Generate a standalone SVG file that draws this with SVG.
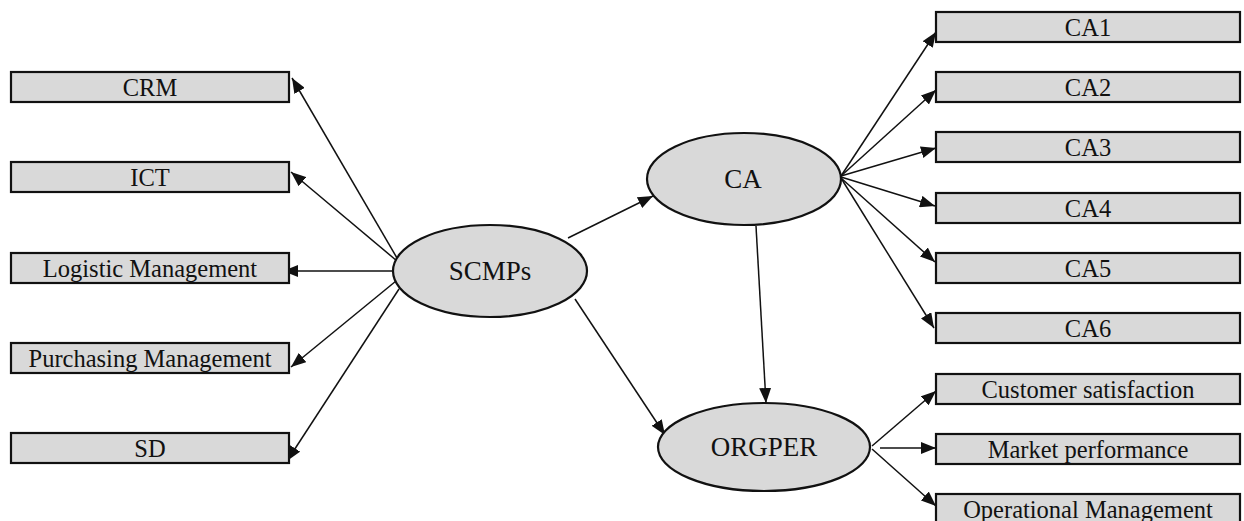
<svg xmlns="http://www.w3.org/2000/svg" width="1244" height="521" viewBox="0 0 1244 521">
<defs>
<marker id="ah" markerWidth="16" markerHeight="12" refX="15" refY="6" orient="auto" markerUnits="userSpaceOnUse">
<path d="M0,0 L15,6 L0,12 z" fill="#111"/>
</marker>
<style>
.box{fill:#d9d9d9;stroke:#111;stroke-width:2.2}
.ell{fill:#d9d9d9;stroke:#111;stroke-width:2.2}
.bt{font-family:"Liberation Serif","Times New Roman",serif;font-size:24.5px;fill:#111;text-anchor:middle}
.et{font-family:"Liberation Serif","Times New Roman",serif;font-size:27px;fill:#111;text-anchor:middle}
.c line{stroke:#111;stroke-width:1.5;marker-end:url(#ah)}
</style>
</defs>
<rect width="1244" height="521" fill="#fff"/>
<g class="c" id="connectors">
<line x1="397" y1="258" x2="292" y2="78"/>
<line x1="397" y1="261" x2="291" y2="172"/>
<line x1="395" y1="271" x2="283" y2="271"/>
<line x1="396" y1="281" x2="291" y2="367"/>
<line x1="399" y1="289" x2="287" y2="461"/>
<line x1="568" y1="238" x2="653" y2="196"/>
<line x1="575" y1="299" x2="665" y2="435"/>
<line x1="756" y1="226" x2="766" y2="403"/>
<line x1="841" y1="176" x2="936" y2="32"/>
<line x1="841" y1="176" x2="936" y2="90"/>
<line x1="841" y1="176" x2="936" y2="148"/>
<line x1="841" y1="177" x2="935" y2="206"/>
<line x1="841" y1="178" x2="935" y2="262"/>
<line x1="841" y1="178" x2="934" y2="328"/>
<line x1="872" y1="446" x2="936" y2="391"/>
<line x1="880" y1="448" x2="936" y2="448"/>
<line x1="872" y1="449" x2="936" y2="506"/>
</g>
<g id="crm"><rect class="box" x="11" y="72" width="278" height="30"/><text class="bt" x="150" y="96">CRM</text></g>
<g id="ict"><rect class="box" x="11" y="162" width="278" height="30"/><text class="bt" x="150" y="186">ICT</text></g>
<g id="logistic"><rect class="box" x="11" y="253" width="278" height="30"/><text class="bt" x="150" y="277">Logistic Management</text></g>
<g id="purchasing"><rect class="box" x="11" y="343" width="278" height="30"/><text class="bt" x="150" y="367">Purchasing Management</text></g>
<g id="sd"><rect class="box" x="11" y="433" width="278" height="30"/><text class="bt" x="150" y="457">SD</text></g>
<g id="scmps"><ellipse class="ell" cx="490" cy="271" rx="97" ry="46"/><text class="et" x="490" y="280">SCMPs</text></g>
<g id="ca"><ellipse class="ell" cx="744" cy="179" rx="97" ry="46"/><text class="et" x="743" y="188">CA</text></g>
<g id="orgper"><ellipse class="ell" cx="764" cy="447" rx="106" ry="44"/><text class="et" x="764" y="456">ORGPER</text></g>
<g id="ca1"><rect class="box" x="936" y="12" width="304" height="30"/><text class="bt" x="1088" y="36">CA1</text></g>
<g id="ca2"><rect class="box" x="936" y="72" width="304" height="30"/><text class="bt" x="1088" y="96">CA2</text></g>
<g id="ca3"><rect class="box" x="936" y="132" width="304" height="30"/><text class="bt" x="1088" y="156">CA3</text></g>
<g id="ca4"><rect class="box" x="936" y="193" width="304" height="30"/><text class="bt" x="1088" y="217">CA4</text></g>
<g id="ca5"><rect class="box" x="936" y="253" width="304" height="30"/><text class="bt" x="1088" y="277">CA5</text></g>
<g id="ca6"><rect class="box" x="936" y="313" width="304" height="30"/><text class="bt" x="1088" y="337">CA6</text></g>
<g id="cs"><rect class="box" x="936" y="374" width="304" height="30"/><text class="bt" x="1088" y="398">Customer satisfaction</text></g>
<g id="mp"><rect class="box" x="936" y="434" width="304" height="30"/><text class="bt" x="1088" y="458">Market performance</text></g>
<g id="om"><rect class="box" x="936" y="494" width="304" height="32"/><text class="bt" x="1088" y="518">Operational Management</text></g>
</svg>
